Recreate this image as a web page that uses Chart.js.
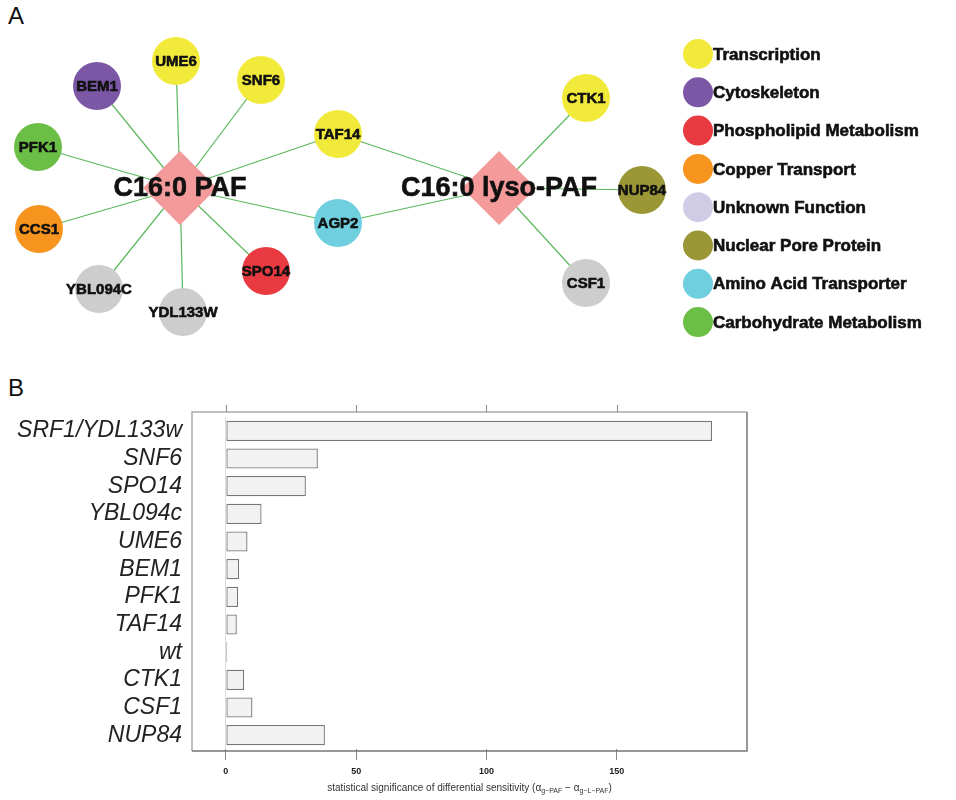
<!DOCTYPE html>
<html>
<head>
<meta charset="utf-8">
<script src="https://cdn.jsdelivr.net/npm/chart.js@4.4.1/dist/chart.umd.min.js"></script>
<style>
  body { margin: 0; background: #fff; }
  #wrap { position: relative; width: 956px; height: 800px; font-family: "Liberation Sans", Arial, sans-serif; }
  .panel { position: absolute; left: 8px; font-size: 24px; color: #111; }
  canvas { position: absolute; left: 0; }
</style>
</head>
<body>
<div id="wrap">
  <div class="panel" style="top:2px">A</div>
  <div class="panel" style="top:374px">B</div>
  <canvas id="netChart" width="956" height="370" style="top:0"></canvas>
  <canvas id="barChart" width="956" height="430" style="top:370px"></canvas>
</div>
<script>
// ---- panel A: interaction network ----
const nodeNames = ['C16:0 PAF', 'C16:0 lyso-PAF', 'UME6', 'BEM1', 'SNF6', 'PFK1', 'CCS1',
                   'YBL094C', 'YDL133W', 'SPO14', 'TAF14', 'AGP2', 'CTK1', 'NUP84', 'CSF1'];
const nodeX = [180, 499, 176, 97, 261, 38, 39, 99, 183, 266, 338, 338, 586, 642, 586];
const nodeY = [188, 188, 61, 86, 80, 147, 229, 289, 312, 271, 134, 223, 98, 190, 283];
const nodeGroup = ['lipid', 'lipid', 'Transcription', 'Cytoskeleton', 'Transcription', 'Carbohydrate Metabolism',
                   'Copper Transport', 'Unknown Function', 'Unknown Function', 'Phospholipid Metabolism',
                   'Transcription', 'Amino Acid Transporter', 'Transcription', 'Nuclear Pore Protein', 'Unknown Function'];
const edgeFrom = ['C16:0 PAF', 'C16:0 PAF', 'C16:0 PAF', 'C16:0 PAF', 'C16:0 PAF', 'C16:0 PAF', 'C16:0 PAF', 'C16:0 PAF',
                  'C16:0 PAF', 'C16:0 PAF', 'C16:0 lyso-PAF', 'C16:0 lyso-PAF', 'C16:0 lyso-PAF', 'C16:0 lyso-PAF', 'C16:0 lyso-PAF'];
const edgeTo = ['UME6', 'BEM1', 'SNF6', 'PFK1', 'CCS1', 'YBL094C', 'YDL133W', 'SPO14', 'TAF14', 'AGP2',
                'TAF14', 'AGP2', 'CTK1', 'NUP84', 'CSF1'];
const legendLabels = ['Transcription', 'Cytoskeleton', 'Phospholipid Metabolism', 'Copper Transport',
                      'Unknown Function', 'Nuclear Pore Protein', 'Amino Acid Transporter', 'Carbohydrate Metabolism'];

// ---- panel B: differential sensitivity ----
const strains = ['SRF1/YDL133w', 'SNF6', 'SPO14', 'YBL094c', 'UME6', 'BEM1', 'PFK1', 'TAF14', 'wt', 'CTK1', 'CSF1', 'NUP84'];
const significance = [186.6, 35.3, 30.7, 13.7, 8.3, 5.1, 4.7, 4.2, 0.5, 7.0, 10.2, 38.0];
const xTicks = [0, 50, 100, 150];

const groupColors = {
    'lipid': '#f49a9b',
    'Transcription': '#f2ea3a',
    'Cytoskeleton': '#7b57a6',
    'Phospholipid Metabolism': '#e83a40',
    'Copper Transport': '#f7941e',
    'Unknown Function': '#cdcdcd',
    'Nuclear Pore Protein': '#9b9737',
    'Amino Acid Transporter': '#70cfdf',
    'Carbohydrate Metabolism': '#6cbf46'
};
const legendColors = Object.assign({}, groupColors, { 'Unknown Function': '#d0cce6' });
const FONT = '"Liberation Sans", Arial, sans-serif';

Chart.defaults.font.family = FONT;
Chart.defaults.animation = false;

const edgeSets = edgeFrom.map((a, i) => {
    const ia = nodeNames.indexOf(a), ib = nodeNames.indexOf(edgeTo[i]);
    return {
        type: 'scatter',
        data: [{ x: nodeX[ia], y: nodeY[ia] }, { x: nodeX[ib], y: nodeY[ib] }],
        showLine: true,
        borderColor: '#5cb85c',
        borderWidth: 1.2,
        pointRadius: 0,
        order: 2
    };
});

const netLabels = {
    id: 'netLabels',
    afterDatasetsDraw(chart) {
        const { ctx, scales: { x, y } } = chart;
        ctx.save();
        ctx.textAlign = 'center';
        ctx.textBaseline = 'middle';
        ctx.fillStyle = '#111';
        ctx.strokeStyle = '#111';
        ctx.lineWidth = 0.6;
        nodeNames.forEach((n, i) => {
            const big = nodeGroup[i] === 'lipid';
            ctx.font = (big ? 'bold 27px ' : 'bold 15px ') + FONT;
            const px = x.getPixelForValue(nodeX[i]), py = y.getPixelForValue(nodeY[i]) + 1;
            ctx.fillText(n, px, py);
            ctx.strokeText(n, px, py);
        });
        // legend
        legendLabels.forEach((lab, i) => {
            const cy = 54 + i * 38.3;
            ctx.beginPath();
            ctx.fillStyle = legendColors[lab];
            ctx.arc(698, cy, 15, 0, Math.PI * 2);
            ctx.fill();
            ctx.fillStyle = '#111';
            ctx.textAlign = 'left';
            ctx.font = 'bold 17px ' + FONT;
            ctx.fillText(lab, 713, cy + 1);
            ctx.strokeText(lab, 713, cy + 1);
        });
        ctx.restore();
    }
};

new Chart(document.getElementById('netChart'), {
    type: 'scatter',
    data: {
        datasets: edgeSets.concat([{
            data: nodeX.map((v, i) => ({ x: v, y: nodeY[i] })),
            pointStyle: nodeGroup.map(g => g === 'lipid' ? 'rectRot' : 'circle'),
            pointRadius: nodeGroup.map(g => g === 'lipid' ? 37 : 24),
            backgroundColor: nodeGroup.map(g => groupColors[g]),
            borderWidth: 0,
            order: 1
        }])
    },
    options: {
        responsive: false,
        devicePixelRatio: 1,
        events: [],
        layout: { padding: 0, autoPadding: false },
        scales: {
            x: { type: 'linear', min: 0, max: 956, display: false },
            y: { type: 'linear', min: 0, max: 370, reverse: true, display: false }
        },
        plugins: { legend: { display: false }, tooltip: { enabled: false } }
    },
    plugins: [netLabels]
});

const barFrame = {
    id: 'barFrame',
    afterDraw(chart) {
        const { ctx, chartArea: a, scales: { x } } = chart;
        const top = a.top - 5, bot = a.bottom + 2;
        ctx.save();
        ctx.lineWidth = 1.5;
        ctx.strokeStyle = '#aaaaaa';
        ctx.beginPath();
        ctx.moveTo(a.left, bot); ctx.lineTo(a.left, top); ctx.lineTo(a.right, top);
        ctx.stroke();
        ctx.strokeStyle = '#777777';
        ctx.beginPath();
        ctx.moveTo(a.right, top); ctx.lineTo(a.right, bot); ctx.lineTo(a.left, bot);
        ctx.stroke();
        ctx.lineWidth = 1;
        ctx.strokeStyle = '#888888';
        xTicks.forEach(v => {
            const px = Math.round(x.getPixelForValue(v)) + 0.5;
            ctx.beginPath();
            ctx.moveTo(px, top); ctx.lineTo(px, top - 7);
            ctx.stroke();
        });
        // axis title with subscripts
        const parts = [['statistical significance of differential sensitivity (\u03b1', false],
                       ['g\u2212PAF', true], [' \u2212 \u03b1', false], ['g\u2212L\u2212PAF', true], [')', false]];
        const fMain = '10px ' + FONT, fSub = '7px ' + FONT;
        let w = 0;
        parts.forEach(p => { ctx.font = p[1] ? fSub : fMain; w += ctx.measureText(p[0]).width; });
        let cx = (a.left + a.right) / 2 - w / 2;
        const ty = 418;
        ctx.fillStyle = '#333';
        ctx.textAlign = 'left';
        ctx.textBaseline = 'middle';
        parts.forEach(p => {
            ctx.font = p[1] ? fSub : fMain;
            ctx.fillText(p[0], cx, p[1] ? ty + 3 : ty);
            cx += ctx.measureText(p[0]).width;
        });
        ctx.restore();
    }
};

new Chart(document.getElementById('barChart'), {
    type: 'bar',
    data: {
        labels: strains,
        datasets: [{
            data: significance,
            backgroundColor: '#f2f2f2',
            borderColor: '#777777',
            borderWidth: 1.3,
            borderSkipped: false,
            barPercentage: 0.73,
            categoryPercentage: 1
        }]
    },
    options: {
        indexAxis: 'y',
        responsive: false,
        devicePixelRatio: 1,
        events: [],
        layout: { padding: { left: 0, right: 209, top: 47, bottom: 0 } },
        scales: {
            x: {
                type: 'linear',
                min: -13,
                max: 200,
                afterBuildTicks: s => { s.ticks = xTicks.map(v => ({ value: v })); },
                afterFit: s => { s.height = 51; },
                border: { display: false },
                grid: {
                    drawOnChartArea: true,
                    color: c => (c.tick && c.tick.value === 0) ? '#dddddd' : 'rgba(0,0,0,0)',
                    tickColor: '#888888',
                    tickLength: 11
                },
                ticks: { padding: 6, color: '#222', font: { size: 9, weight: 'bold' } }
            },
            y: {
                afterFit: s => { s.width = 192; },
                border: { display: false },
                grid: { display: false, drawTicks: false },
                ticks: { autoSkip: false, padding: 10, color: '#222', font: { size: 23, style: 'italic' } }
            }
        },
        plugins: { legend: { display: false }, tooltip: { enabled: false } }
    },
    plugins: [barFrame]
});
</script>
</body>
</html>
